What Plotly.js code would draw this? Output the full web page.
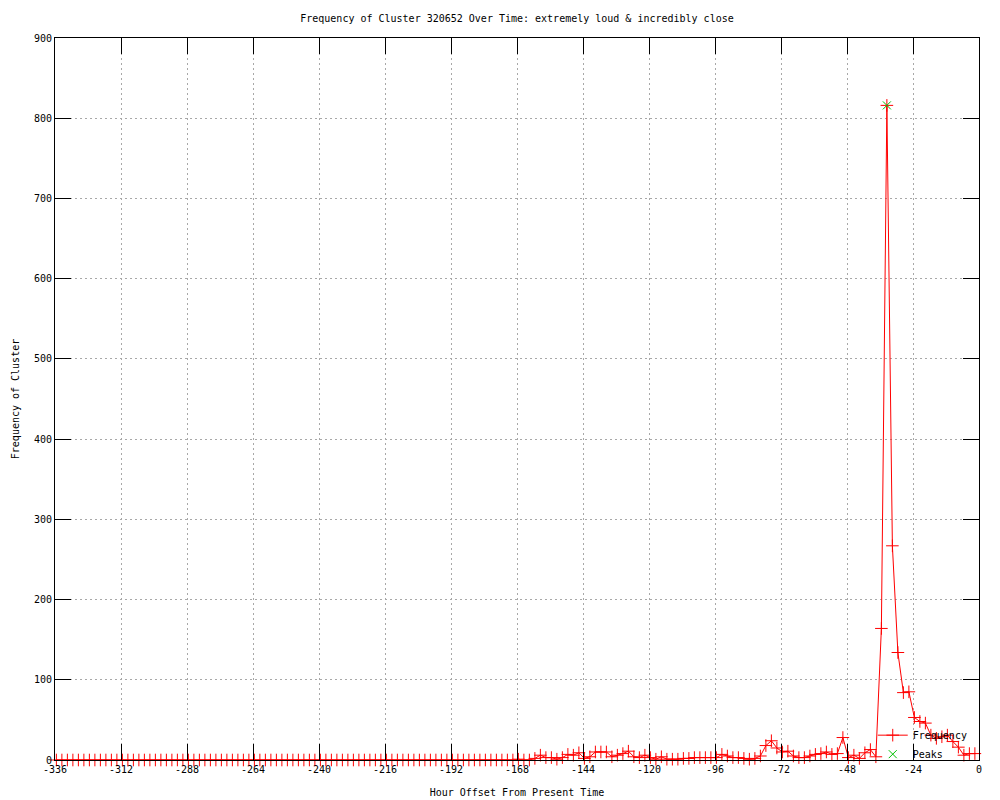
<!DOCTYPE html>
<html>
<head>
<meta charset="utf-8">
<script src="https://cdn.plot.ly/plotly-3.0.1.min.js"></script>
<style>html,body{margin:0;padding:0;background:#fff;}#chart{width:1000px;height:800px;}</style>
</head>
<body>
<div id="chart"></div>
<script>
const hours = [
-335.5,-333.5,-331.5,-329.5,-327.5,-325.5,-323.5,-321.5,-319.5,-317.5,-315.5,-313.5,
-311.5,-309.5,-307.5,-305.5,-303.5,-301.5,-299.5,-297.5,-295.5,-293.5,-291.5,-289.5,
-287.5,-285.5,-283.5,-281.5,-279.5,-277.5,-275.5,-273.5,-271.5,-269.5,-267.5,-265.5,
-263.5,-261.5,-259.5,-257.5,-255.5,-253.5,-251.5,-249.5,-247.5,-245.5,-243.5,-241.5,
-239.5,-237.5,-235.5,-233.5,-231.5,-229.5,-227.5,-225.5,-223.5,-221.5,-219.5,-217.5,
-215.5,-213.5,-211.5,-209.5,-207.5,-205.5,-203.5,-201.5,-199.5,-197.5,-195.5,-193.5,
-191.5,-189.5,-187.5,-185.5,-183.5,-181.5,-179.5,-177.5,-175.5,-173.5,-171.5,-169.5,
-167.5,-165.5,-163.5,-161.5,-159.5,-157.5,-155.5,-153.5,-151.5,-149.5,-147.5,-145.5,
-143.5,-141.5,-139.5,-137.5,-135.5,-133.5,-131.5,-129.5,-127.5,-125.5,-123.5,-121.5,
-119.5,-117.5,-115.5,-113.5,-111.5,-109.5,-107.5,-105.5,-103.5,-101.5,-99.5,-97.5,
-95.5,-93.5,-91.5,-89.5,-87.5,-85.5,-83.5,-81.5,-79.5,-77.5,-75.5,-73.5,
-71.5,-69.5,-67.5,-65.5,-63.5,-61.5,-59.5,-57.5,-55.5,-53.5,-51.5,-49.5,
-47.5,-45.5,-43.5,-41.5,-39.5,-37.5,-35.5,-33.5,-31.5,-29.5,-27.5,-25.5,
-23.5,-21.5,-19.5,-17.5,-15.5,-13.5,-11.5,-9.5,-7.5,-5.5,-3.5,-1.5
];
const frequency = [
0,0,0,0,0,0,0,0,0,0,0,0,
0,0,0,0,0,0,0,0,0,0,0,0,
0,0,0,0,0,0,0,0,0,0,0,0,
0,0,0,0,0,0,0,0,0,0,0,0,
0,0,0,0,0,0,0,0,0,0,0,0,
0,0,0,0,0,0,0,0,0,0,0,0,
0,0,0,0,0,0,0,0,0,0,0,0,
1,0,0,2,6,3,3,1,3,7,6,9,
2,4,10,10,10,4,6,8,11,4,3,6,
3,1,4,1,1,1,2,2,3,3,3,3,
3,7,5,3,3,2,1,2,5,18,24,15,
10,11,5,3,3,5,7,8,10,7,8,28,
3,6,2,9,13,4,164,816,267,134,84,85,
53,48,46,31,27,29,31,23,16,6,8,8
];
const peakHours = [-33.5];
const peakValues = [816];
const xTicks = [-336,-312,-288,-264,-240,-216,-192,-168,-144,-120,-96,-72,-48,-24,0];
const yTicks = [0,100,200,300,400,500,600,700,800,900];

const FONT = "DejaVu Sans Mono, Liberation Mono, monospace";

const traces = [
  {
    x: hours, y: frequency, name: "Frequency", type: "scatter", mode: "lines+markers",
    line: {color: "#ff0000", width: 1},
    marker: {symbol: "cross-thin-open", size: 9, color: "#ff0000", line: {color: "#ff0000", width: 1}},
    cliponaxis: false
  },
  {
    x: peakHours, y: peakValues, name: "Peaks", type: "scatter", mode: "markers",
    marker: {symbol: "x-thin-open", size: 8, color: "#00c000", line: {color: "#00c000", width: 1}},
    cliponaxis: false
  }
];

const axisCommon = {
  showline: true, linecolor: "#000", linewidth: 1, mirror: "ticks",
  ticks: "inside", ticklen: 16, tickwidth: 1, tickcolor: "#000",
  showgrid: true, gridcolor: "#a8a8a8", gridwidth: 1, griddash: "2px,3px",
  zeroline: false, tickfont: {family: FONT, size: 10, color: "#000"}
};

const layout = {
  width: 1000, height: 800,
  paper_bgcolor: "#fff", plot_bgcolor: "#fff",
  margin: {l: 55, r: 21, t: 38, b: 40},
  title: {text: "Frequency of Cluster 320652 Over Time: extremely loud & incredibly close",
          font: {family: FONT, size: 10, color: "#000"}, x: 0.517, xanchor: "center", y: 0.977, yanchor: "middle"},
  xaxis: Object.assign({}, axisCommon, {
    range: [-336, 0], tickmode: "array", tickvals: xTicks, ticktext: xTicks.map(String),
    title: {text: "Hour Offset From Present Time", font: {family: FONT, size: 10, color: "#000"}, standoff: 14}
  }),
  yaxis: Object.assign({}, axisCommon, {
    range: [0, 900], tickmode: "array", tickvals: yTicks, ticktext: yTicks.map(String),
    title: {text: "Frequency of Cluster", font: {family: FONT, size: 10, color: "#000"}, standoff: 12}
  }),
  showlegend: true,
  legend: {x: 0.885, xanchor: "left", y: -0.012, yanchor: "bottom", bgcolor: "rgba(0,0,0,0)",
           font: {family: FONT, size: 10, color: "#000"}, tracegroupgap: 0, itemwidth: 30}
};

Plotly.newPlot("chart", traces, layout, {displayModeBar: false, staticPlot: true});
</script>
</body>
</html>
